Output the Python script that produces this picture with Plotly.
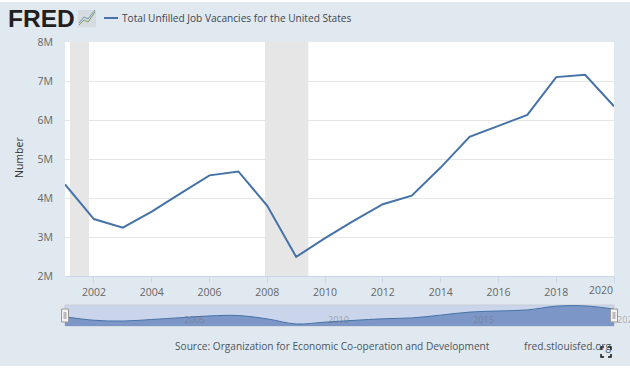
import plotly.graph_objects as go

years = list(range(2001, 2021))
vacancies = [4.35, 3.46, 3.24, 3.65, 4.12, 4.58, 4.68, 3.80, 2.49, 2.97,
             3.42, 3.84, 4.06, 4.78, 5.57, 5.85, 6.13, 7.10, 7.16, 6.35]
recessions = [(2001.17, 2001.83), (2007.92, 2009.42)]
x_ticks = [2002, 2004, 2006, 2008, 2010, 2012, 2014, 2016, 2018, 2020]
x_labels = ["2002", "2004", "2006", "2008", "2010", "2012", "2014", "2016", "2018", ""]
last_x_label = "2020"
y_ticks = [2, 3, 4, 5, 6, 7, 8]
y_labels = ["2M", "3M", "4M", "5M", "6M", "7M", "8M"]
nav_ticks = [2005, 2010, 2015, 2020]

W, H = 630, 368
BG = "#e1e9f0"
FONT = "Open Sans"
def px(x): return x / W
def py(y): return 1 - y / H

fig = go.Figure()
fig.add_trace(go.Scatter(x=years, y=vacancies, mode="lines",
                         line=dict(color="#4572a7", width=2), hoverinfo="x+y",
                         showlegend=False, xaxis="x", yaxis="y"))
fig.add_trace(go.Scatter(x=years, y=vacancies, mode="lines", fill="tozeroy",
                         line=dict(color="#4572a7", width=1, shape="spline", smoothing=1.0),
                         fillcolor="rgba(60,100,170,0.55)", hoverinfo="skip",
                         showlegend=False, xaxis="x2", yaxis="y2"))

shapes = []
for a, b in recessions:
    shapes.append(dict(type="rect", xref="x", yref="paper", x0=a, x1=b, y0=py(276), y1=py(42),
                       fillcolor="#e6e6e6", line_width=0, layer="below"))
shapes.append(dict(type="rect", xref="paper", yref="paper", x0=0, x1=1, y0=py(2), y1=1,
                   fillcolor="#ffffff", line_width=0, layer="above"))
shapes.append(dict(type="rect", xref="paper", yref="paper", x0=0, x1=1, y0=0, y1=py(366),
                   fillcolor="#ffffff", line_width=0, layer="above"))
shapes.append(dict(type="rect", xref="paper", yref="paper", x0=px(65), x1=px(614), y0=py(326), y1=py(305),
                   fillcolor="rgba(102,133,194,0.35)", line=dict(color="#c8ccd4", width=1), layer="below"))
for hx in (65, 614):
    shapes.append(dict(type="rect", xref="paper", yref="paper", x0=px(hx-3.5), x1=px(hx+3.5), y0=py(322), y1=py(309),
                       fillcolor="#f2f2f2", line=dict(color="#999999", width=1), layer="above"))
    shapes.append(dict(type="rect", xref="paper", yref="paper", x0=px(hx-1.5), x1=px(hx+1.5), y0=py(319), y1=py(312),
                       fillcolor="#bbbbbb", line_width=0, layer="above"))
shapes.append(dict(type="rect", xref="paper", yref="paper", x0=px(78), x1=px(96), y0=py(27), y1=py(10),
                   fillcolor="#d5dbe0", line_width=0))
for col, pts in (("#7fa05a", [(79, 25), (84, 20), (88, 22), (95, 12)]),
                 ("#6f93bd", [(79, 23), (84, 17), (88, 19), (95, 10)])):
    d = "M " + " L ".join(f"{px(a):.4f},{py(b):.4f}" for a, b in pts)
    shapes.append(dict(type="path", xref="paper", yref="paper", path=d, line=dict(color=col, width=1)))
shapes.append(dict(type="line", xref="paper", yref="paper", x0=px(104), x1=px(118), y0=py(18), y1=py(18),
                   line=dict(color="#4572a7", width=2)))
for a, b, c, d_, e, f in [(601, 350, 601, 347, 604, 347), (608, 347, 611, 347, 611, 350),
                          (611, 354, 611, 357, 608, 357), (604, 357, 601, 357, 601, 354)]:
    shapes.append(dict(type="path", xref="paper", yref="paper",
                       path=f"M {px(a):.4f},{py(b):.4f} L {px(c):.4f},{py(d_):.4f} L {px(e):.4f},{py(f):.4f}",
                       line=dict(color="#111111", width=1.5)))

ann = [
    dict(text="<b>FRED</b>", x=px(6), y=py(18), xref="paper", yref="paper", xanchor="left", yanchor="middle",
         showarrow=False, font=dict(family="Liberation Sans", size=24.5, color="#231f20")),
    dict(text="Total Unfilled Job Vacancies for the United States", x=px(120), y=py(18), xref="paper", yref="paper",
         xanchor="left", yanchor="middle", showarrow=False, font=dict(family=FONT, size=10.15, color="#3d4650")),
    dict(text="Number", x=px(19), y=py(158), xref="paper", yref="paper", textangle=-90, xanchor="center", yanchor="middle",
         showarrow=False, font=dict(family=FONT, size=10.5, color="#333333")),
    dict(text="Source: Organization for Economic Co-operation and Development", x=px(173), y=py(346), xref="paper",
         yref="paper", xanchor="left", yanchor="middle", showarrow=False, font=dict(family=FONT, size=10.15, color="#4b5560")),
    dict(text="fred.stlouisfed.org", x=px(522), y=py(346), xref="paper", yref="paper", xanchor="left", yanchor="middle",
         showarrow=False, font=dict(family=FONT, size=10.2, color="#4b5560")),
    dict(text=last_x_label, x=2020, y=py(290), xref="x", yref="paper", xanchor="right", yanchor="middle",
         xshift=1, showarrow=False, font=dict(family=FONT, size=10.5, color="#666666")),
]
for t in nav_ticks:
    ann.append(dict(text=str(t), x=t, y=0.33, xref="x2", yref="y2 domain", xanchor="left", yanchor="middle",
                    xshift=1, showarrow=False, font=dict(family=FONT, size=9.2, color="rgba(110,110,110,0.5)")))

fig.update_layout(
    template="none",
    width=W, height=H, autosize=False, margin=dict(l=0, r=0, t=0, b=0, pad=0),
    paper_bgcolor=BG, plot_bgcolor="#ffffff", showlegend=False, shapes=shapes, annotations=ann,
    font=dict(family=FONT, color="#666666", size=10.5),
    xaxis=dict(domain=[px(65), px(614)], range=[2001, 2020], tickvals=x_ticks, ticktext=x_labels, showgrid=False,
               automargin=False, anchor="y", ticks="outside", ticklen=6, tickcolor="#ccd6eb", showline=True,
               linecolor="#ccd6eb", tickfont=dict(size=10.5, color="#666666"), zeroline=False),
    yaxis=dict(domain=[py(276), py(42)], range=[2, 8], tickvals=y_ticks, ticktext=y_labels, gridcolor="#e6e6e6",
               anchor="x", zeroline=False, ticks="", automargin=False, tickfont=dict(size=10.5, color="#666666"), ticklabelstandoff=11),
    xaxis2=dict(domain=[px(65), px(614)], range=[2001, 2020], visible=False, anchor="y2", automargin=False),
    yaxis2=dict(domain=[py(326), py(305)], range=[1.97, 7.4], visible=False, anchor="x2", automargin=False),
)

post = """
document.documentElement.style.margin='0';
document.body.style.margin='0';
document.body.style.padding='0';
document.body.style.overflow='hidden';
"""
fig.write_html("out.html", config=dict(displayModeBar=False, responsive=False), post_script=post)
